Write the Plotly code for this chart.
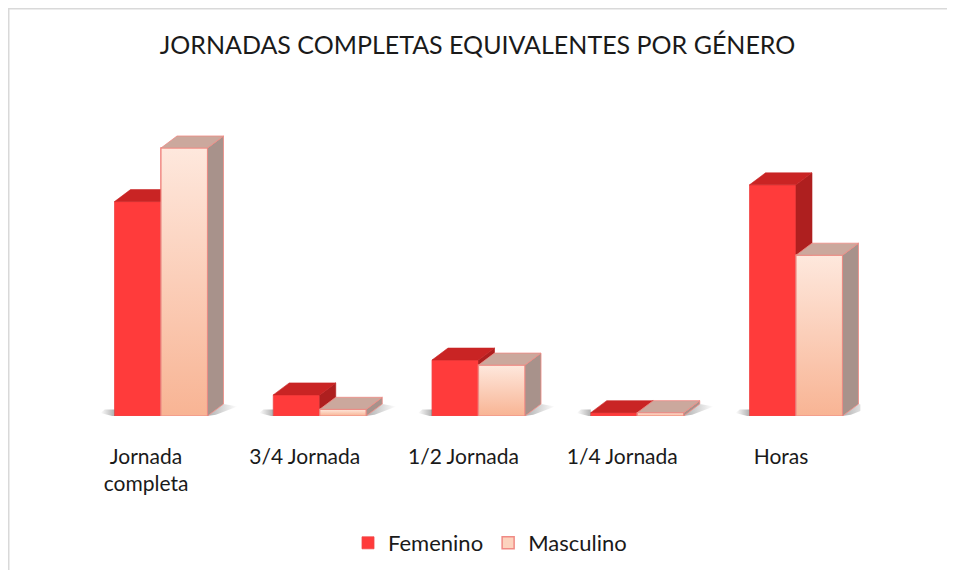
import plotly.graph_objects as go

# ---------------- data ----------------
categories = ["Jornada<br>completa", "3/4 Jornada", "1/2 Jornada", "1/4 Jornada", "Horas"]
femenino = [64, 6.3, 16.7, 1, 69]
masculino = [80, 2, 15.2, 1, 48]
series_names = ["Femenino", "Masculino"]
title_text = "JORNADAS COMPLETAS EQUIVALENTES POR GÉNERO"

# ---------------- layout constants (pixels) ----------------
PAGE = 8                      # browser body margin
W, H = 955 - 2 * PAGE, 578 - 2 * PAGE
FONT = "Lato"
cat_px0 = 146.0 - PAGE        # pixel x of first category tick
cat_step = 158.75             # pixels between categories
base_px = 416.0 - PAGE        # pixel y of baseline
top_px = 100.0 - PAGE         # pixel y of top of plot area
px_per_y = 3.35               # pixels per y unit
bar_w_px = 46.5
fem_off_px = -31.5
depth_dx_px = 16.0
depth_dy_px = 12.0
shadow_px = 14.0

n = len(categories)
xr = [-0.5, n - 0.5]
x_dom = [(cat_px0 + xr[0] * cat_step) / W, (cat_px0 + xr[1] * cat_step) / W]
y_top = (base_px - top_px) / px_per_y
y_dom = [(H - base_px) / H, (H - top_px) / H]

w = bar_w_px / cat_step
off_f = fem_off_px / cat_step
off_m = off_f + w
dx = depth_dx_px / cat_step
dy = depth_dy_px / px_per_y
sx = shadow_px / cat_step

# colours
fem_front = "#FF3B3B"
fem_top = "#C92424"
fem_side = "#AE1F1F"
masc_top_col = "#CBA89D"
masc_side_col = "#A8928B"
masc_edge = "#F08A84"
masc_grad_bottom = "#F8B494"
masc_grad_top = "#FEE8DD"
shadow_dark = "rgba(80,80,80,0.45)"
shadow_clear = "rgba(80,80,80,0)"
border_col = "#D9D9D9"

xs = list(range(n))
fig = go.Figure()

# front faces as bars (library scales)
fig.add_trace(go.Bar(x=xs, y=femenino, name=series_names[0], width=w, offset=off_f,
                     marker=dict(color=fem_front, line=dict(color="#F04848", width=0.8))))
fig.add_trace(go.Bar(x=xs, y=masculino, name=series_names[1], width=w, offset=off_m,
                     marker=dict(color="#FCD3BE", line=dict(color=masc_edge, width=1.5))))


def poly(px, py, color, line_color=None, lw=0.6, grad=None, gtype="vertical"):
    kw = {}
    if grad is not None:
        kw["fillgradient"] = dict(type=gtype, colorscale=grad)
    else:
        kw["fillcolor"] = color
    fig.add_trace(go.Scatter(x=px, y=py, mode="lines", fill="toself",
                             line=dict(color=line_color or color, width=lw),
                             showlegend=False, hoverinfo="skip", **kw))


# floor shadows (left of the front face, right of the side face)
for i in range(n):
    xl = i + off_f
    xr_ = i + off_m + w
    poly([xl - sx, xl, xl, xl - sx * 0.7, xl - sx],
         [0.25 * dy, -0.05 * dy, 0.55 * dy, 0.55 * dy, 0.25 * dy],
         None, "rgba(0,0,0,0)", 0, grad=[[0, shadow_clear], [1, shadow_dark]], gtype="horizontal")
    poly([xr_, xr_ + dx, xr_ + dx + sx, xr_ + sx * 0.6, xr_],
         [0, dy, 0.8 * dy, 0.1 * dy, 0],
         None, "rgba(0,0,0,0)", 0, grad=[[0, shadow_dark], [1, shadow_clear]], gtype="horizontal")

# Femenino side and top faces
for i in range(n):
    h = femenino[i]
    x0 = i + off_f
    x1 = x0 + w
    poly([x1, x1, x1 + dx, x1 + dx, x1], [0, h, h + dy, dy, 0], fem_side)
    poly([x0, x1, x1 + dx, x0 + dx, x0], [h, h, h + dy, h + dy, h], fem_top)

# Masculino front (gradient), side and top faces
for i in range(n):
    h = masculino[i]
    x0 = i + off_m
    x1 = x0 + w
    poly([x0, x1, x1, x0, x0], [0, 0, h, h, 0], None, masc_edge, 1.2,
         grad=[[0, masc_grad_bottom], [1, masc_grad_top]])
    poly([x1, x1, x1 + dx, x1 + dx, x1], [0, h, h + dy, dy, 0], masc_side_col, masc_edge, 0.8)
    poly([x0, x1, x1 + dx, x0 + dx, x0], [h, h, h + dy, h + dy, h], masc_top_col, masc_edge, 0.8)

fig.update_layout(
    width=W, height=H,
    margin=dict(l=0, r=0, t=0, b=0),
    paper_bgcolor="white", plot_bgcolor="white",
    barmode="overlay",
    font=dict(family=FONT, color="#1a1a1a"),
    title=dict(text=title_text, x=(477.5 - PAGE) / W, xanchor="center",
               y=1 - (45 - PAGE) / H, yanchor="middle",
               font=dict(family=FONT, size=25, color="#1a1a1a")),
    xaxis=dict(domain=x_dom, range=xr, tickmode="array", tickvals=xs, ticktext=categories,
               showgrid=False, zeroline=False, showline=False, ticks="",
               tickfont=dict(family=FONT, size=21, color="#1a1a1a"), ticklabelstandoff=26),
    yaxis=dict(domain=y_dom, range=[0, y_top], visible=False),
    legend=dict(orientation="h", x=(490 - PAGE) / W, xanchor="center",
                y=(H - (543 - PAGE)) / H, yanchor="middle",
                font=dict(family=FONT, size=22, color="#1a1a1a"), itemwidth=30,
                traceorder="normal"),
    hovermode=False,
    shapes=[
        dict(type="line", xref="paper", yref="paper", x0=0.75 / W, x1=0.75 / W, y0=0, y1=1,
             line=dict(color=border_col, width=1.5), layer="below"),
        dict(type="line", xref="paper", yref="paper", x0=0, x1=1, y0=1 - 0.75 / H, y1=1 - 0.75 / H,
             line=dict(color=border_col, width=1.5), layer="below"),
    ],
)

fig.write_html("out.html", config={"displayModeBar": False})
